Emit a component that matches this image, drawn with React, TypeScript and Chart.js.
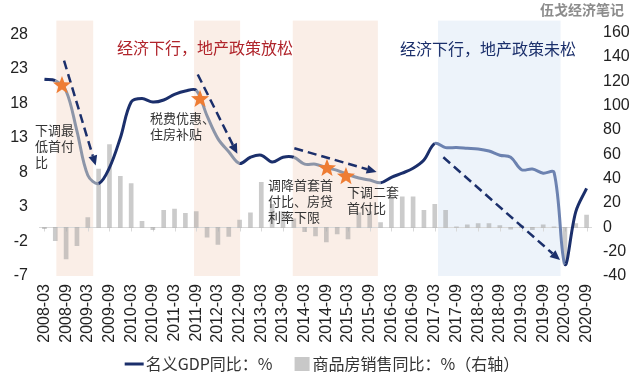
import React, { useEffect, useRef } from 'react';
import { Chart, registerables } from 'chart.js';

Chart.register(...registerables);

// ---------- data ----------
const quarters = [
  '2008-03', '2008-06', '2008-09', '2008-12',
  '2009-03', '2009-06', '2009-09', '2009-12',
  '2010-03', '2010-06', '2010-09', '2010-12',
  '2011-03', '2011-06', '2011-09', '2011-12',
  '2012-03', '2012-06', '2012-09', '2012-12',
  '2013-03', '2013-06', '2013-09', '2013-12',
  '2014-03', '2014-06', '2014-09', '2014-12',
  '2015-03', '2015-06', '2015-09', '2015-12',
  '2016-03', '2016-06', '2016-09', '2016-12',
  '2017-03', '2017-06', '2017-09', '2017-12',
  '2018-03', '2018-06', '2018-09', '2018-12',
  '2019-03', '2019-06', '2019-09', '2019-12',
  '2020-03', '2020-06', '2020-09',
];

// 名义GDP同比 (%), left axis
const gdpYoY = [
  21.5, 21.3, 19.8, 14.0,
  7.6, 6.4, 8.7, 13.0,
  18.2, 18.7, 18.2, 18.5,
  19.3, 19.8, 19.9, 16.2,
  12.9, 11.0, 9.3, 10.2,
  10.5, 9.5, 10.2, 10.2,
  9.2, 9.2, 8.7, 8.3,
  7.7, 7.2, 6.9, 6.5,
  7.3, 7.9, 8.6, 9.8,
  12.2, 11.6, 11.6, 11.5,
  11.4, 11.1, 10.5, 10.2,
  8.4, 8.5, 7.9, 8.0,
  -5.3, 2.3, 5.7,
];

// 商品房销售同比 (%), right axis
const salesYoY = [
  -1, -11, -26, -15,
  8, 48, 68, 42,
  36, 5, -2, 14,
  15, 11.5, 13, -8,
  -14, -7.5, 6, 12,
  37, 19, 13, 7,
  -3.5, -7, -12, -5.5,
  -9.5, 12, 13, 4,
  25, 25, 25, 14,
  19, 14, 0.5, 2,
  3, 3, 1.5, -1.5,
  1.5, -2, 2, 0.5,
  -30, 3, 10,
];

const leftTicks = [-7, -2, 3, 8, 13, 18, 23, 28];
const rightTicks = [-40, -20, 0, 20, 40, 60, 80, 100, 120, 140, 160];

// shaded periods, in category-index units
const shadeRegions = [
  { from: 1.1, to: 4.5, kind: 'loose' },
  { from: 13.8, to: 18.05, kind: 'loose' },
  { from: 22.9, to: 30.75, kind: 'loose' },
  { from: 36.3, to: 47.6, kind: 'tight' },
];

// policy stars (index, left-axis value)
const stars = [
  [1.62, 20.6],
  [14.35, 18.6],
  [26.06, 8.6],
  [27.81, 7.4],
];

// dashed arrows (index, value) -> (index, value)
const arrows = [
  [1.81, 24.2, 4.73, 9.0],
  [14.14, 22.2, 17.79, 10.7],
  [23.05, 11.5, 30.64, 8.07],
  [36.79, 10.2, 47.55, -4.7],
];

const notes = [
  { i: -0.87, v: 14.1, lines: ['下调最', '低首付', '比'] },
  { i: 9.74, v: 15.84, lines: ['税费优惠、', '住房补贴'] },
  { i: 20.62, v: 6.15, lines: ['调降首套首', '付比、房贷', '利率下限'] },
  { i: 27.91, v: 5.14, lines: ['下调二套', '首付比'] },
];

const titles = [
  { i: 6.7, v: 26.1, text: '经济下行，地产政策放松', kind: 'loose' },
  { i: 32.8, v: 25.95, text: '经济下行，地产政策未松', kind: 'tight' },
];

const watermark = '伍戈经济笔记';

// ---------- styles ----------
const NAVY = '#1b2f6b';
const GRAY_LINE = '#8c95a8';
const BLUE_LINE = '#6c82b0';
const PINK = '#faeee7';
const BLUE = '#edf3fa';
const BAR = 'rgba(160,160,160,0.55)';
const RED = '#b0242b';
const ORANGE = '#ee7d34';
const CJK = '"Noto Sans CJK SC", "Noto Sans", sans-serif';
const LATIN = '"Liberation Sans", Arial, sans-serif';

function segColor(mid: number) {
  for (const r of shadeRegions) {
    if (mid >= r.from && mid <= r.to) return r.kind === 'loose' ? GRAY_LINE : BLUE_LINE;
  }
  return NAVY;
}

function drawStar(ctx: CanvasRenderingContext2D, cx: number, cy: number, R: number, r: number) {
  ctx.beginPath();
  for (let k = 0; k < 10; k++) {
    const a = -Math.PI / 2 + (k * Math.PI) / 5;
    const rad = k % 2 === 0 ? R : r;
    const px = cx + rad * Math.cos(a);
    const py = cy + rad * Math.sin(a);
    if (k === 0) ctx.moveTo(px, py);
    else ctx.lineTo(px, py);
  }
  ctx.closePath();
  ctx.fill();
}

function drawArrow(ctx: CanvasRenderingContext2D, x0: number, y0: number, x1: number, y1: number) {
  const a = Math.atan2(y1 - y0, x1 - x0);
  const head = 10;
  const hw = 4.5;
  const bx = x1 - head * Math.cos(a);
  const by = y1 - head * Math.sin(a);
  ctx.setLineDash([9, 5]);
  ctx.beginPath();
  ctx.moveTo(x0, y0);
  ctx.lineTo(bx, by);
  ctx.stroke();
  ctx.setLineDash([]);
  ctx.beginPath();
  ctx.moveTo(x1, y1);
  ctx.lineTo(bx + hw * Math.sin(a), by - hw * Math.cos(a));
  ctx.lineTo(bx - hw * Math.sin(a), by + hw * Math.cos(a));
  ctx.closePath();
  ctx.fill();
}

const decorPlugin = {
  id: 'decor',
  beforeDatasetsDraw(chart: any) {
    const { ctx, chartArea, scales } = chart;
    const xs = scales.x;
    ctx.save();
    for (const r of shadeRegions) {
      const x0 = xs.getPixelForValue(r.from);
      const x1 = xs.getPixelForValue(r.to);
      ctx.fillStyle = r.kind === 'loose' ? PINK : BLUE;
      ctx.fillRect(x0, chartArea.top, x1 - x0, chartArea.bottom - chartArea.top);
    }
    const y0 = Math.round(scales.y1.getPixelForValue(0)) + 0.5;
    ctx.strokeStyle = '#d9d9d9';
    ctx.lineWidth = 1;
    ctx.beginPath();
    ctx.moveTo(chartArea.left, y0);
    ctx.lineTo(chartArea.right, y0);
    quarters.forEach((_, i) => {
      if (i % 2 === 0) {
        const px = Math.round(xs.getPixelForValue(i)) + 0.5;
        ctx.moveTo(px, y0);
        ctx.lineTo(px, y0 + 4);
      }
    });
    ctx.stroke();
    ctx.restore();
  },
  afterDatasetsDraw(chart: any) {
    const { ctx, scales } = chart;
    const xs = scales.x;
    const ys = scales.y;
    ctx.save();
    // arrows
    ctx.strokeStyle = NAVY;
    ctx.fillStyle = NAVY;
    ctx.lineWidth = 2.5;
    for (const [i0, v0, i1, v1] of arrows) {
      drawArrow(ctx, xs.getPixelForValue(i0), ys.getPixelForValue(v0), xs.getPixelForValue(i1), ys.getPixelForValue(v1));
    }
    // stars
    ctx.fillStyle = ORANGE;
    for (const [i, v] of stars) {
      drawStar(ctx, xs.getPixelForValue(i), ys.getPixelForValue(v), 9.5, 4);
    }
    // notes
    ctx.fillStyle = '#333';
    ctx.font = `13px ${CJK}`;
    ctx.textAlign = 'left';
    ctx.textBaseline = 'middle';
    for (const n of notes) {
      const x = xs.getPixelForValue(n.i);
      const y = ys.getPixelForValue(n.v);
      n.lines.forEach((ln, k) => ctx.fillText(ln, x, y + k * 16));
    }
    // titles
    ctx.font = `16px ${CJK}`;
    for (const t of titles) {
      ctx.fillStyle = t.kind === 'loose' ? RED : NAVY;
      ctx.fillText(t.text, xs.getPixelForValue(t.i), ys.getPixelForValue(t.v));
    }
    ctx.restore();
  },
  afterDraw(chart: any) {
    const { ctx, width } = chart;
    ctx.save();
    // watermark
    ctx.font = `bold 14px ${CJK}`;
    ctx.fillStyle = '#8c8c8c';
    ctx.textAlign = 'right';
    ctx.textBaseline = 'middle';
    ctx.fillText(watermark, width - 15, 10);
    // legend
    const ds = chart.data.datasets;
    ctx.font = `16px ${CJK}`;
    ctx.textAlign = 'left';
    const w1 = ctx.measureText(ds[0].label).width;
    const w2 = ctx.measureText(ds[1].label).width;
    const total = 19 + 2 + w1 + 22 + 15 + 3 + w2;
    let x = 322 - total / 2;
    const y = 364;
    ctx.strokeStyle = NAVY;
    ctx.lineWidth = 3;
    ctx.beginPath();
    ctx.moveTo(x, y);
    ctx.lineTo(x + 19, y);
    ctx.stroke();
    x += 21;
    ctx.fillStyle = '#333';
    ctx.fillText(ds[0].label, x, y);
    x += w1 + 22;
    ctx.fillStyle = '#c8c8c8';
    ctx.fillRect(x, y - 7, 15, 14);
    x += 18;
    ctx.fillStyle = '#333';
    ctx.fillText(ds[1].label, x, y);
    ctx.restore();
  },
};

export default function App() {
  const ref = useRef<HTMLCanvasElement>(null);
  useEffect(() => {
    const canvas = ref.current;
    if (!canvas) return;
    const chart = new Chart(canvas, {
      type: 'bar',
      data: {
        labels: quarters,
        datasets: [
          {
            type: 'line',
            label: '名义GDP同比：%',
            data: gdpYoY,
            yAxisID: 'y',
            borderColor: NAVY,
            borderWidth: 3,
            pointRadius: 0,
            tension: 0.35,
            order: 0,
            segment: {
              borderColor: (c: any) => segColor((c.p0DataIndex + c.p1DataIndex) / 2),
            },
          } as any,
          {
            type: 'bar',
            label: '商品房销售同比：%（右轴）',
            data: salesYoY,
            yAxisID: 'y1',
            backgroundColor: BAR,
            barThickness: 4,
            order: 1,
          },
        ],
      },
      options: {
        animation: false,
        responsive: true,
        maintainAspectRatio: false,
        layout: { padding: { top: 20, bottom: 25, left: 0, right: 0 } },
        plugins: { legend: { display: false }, tooltip: { enabled: false } },
        scales: {
          x: {
            grid: { display: false, drawTicks: false },
            border: { display: false },
            ticks: {
              autoSkip: false,
              minRotation: 90,
              maxRotation: 90,
              padding: 8,
              color: '#222',
              font: { family: LATIN, size: 16 },
              callback: (_v: any, i: number) => (i % 2 === 0 ? quarters[i] : ''),
            },
            afterFit: (s: any) => {
              s.height = 80;
            },
          },
          y: {
            position: 'left',
            min: -7,
            max: 30,
            grid: { display: false, drawTicks: false },
            border: { display: false },
            ticks: { padding: 11, color: '#222', font: { family: LATIN, size: 16 } },
            afterBuildTicks: (s: any) => {
              s.ticks = leftTicks.map((v) => ({ value: v }));
            },
            afterFit: (s: any) => {
              s.width = 39;
            },
          },
          y1: {
            position: 'right',
            min: -40,
            max: 170,
            grid: { display: false, drawTicks: false },
            border: { display: false },
            ticks: { padding: 11, color: '#222', font: { family: LATIN, size: 16 } },
            afterBuildTicks: (s: any) => {
              s.ticks = rightTicks.map((v) => ({ value: v }));
            },
            afterFit: (s: any) => {
              s.width = 47;
            },
          },
        },
      } as any,
      plugins: [decorPlugin],
    });
    return () => chart.destroy();
  }, []);
  return (
    <div style={{ position: 'absolute', left: 0, top: 0, width: 639, height: 381, background: '#fff' }}>
      <canvas ref={ref} />
    </div>
  );
}
